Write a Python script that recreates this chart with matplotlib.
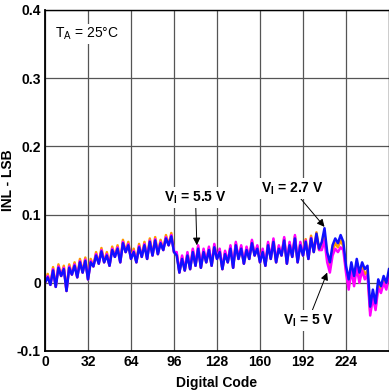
import matplotlib
matplotlib.use("Agg")
import matplotlib.pyplot as plt

plt.rcParams['font.family'] = ['Liberation Sans', 'DejaVu Sans']
plt.rcParams['mathtext.fontset'] = 'custom'
plt.rcParams['mathtext.rm'] = 'Liberation Sans'
plt.rcParams['mathtext.bf'] = 'Liberation Sans:bold'

# Digital code (every 2nd code)
codes = list(range(0, 257, 2))

# INL (LSB)
inl_blue = [
    0.000, 0.008, -0.003, 0.018, -0.006, 0.022, 0.010, 0.020, -0.012, 0.022, 0.012, 0.025, 0.008, 0.030, 0.015, 0.032, 0.005,
    0.030, 0.024, 0.040, 0.028, 0.046, 0.030, 0.040, 0.025, 0.048, 0.038, 0.050, 0.030, 0.058, 0.045, 0.055, 0.035,
    0.045, 0.030, 0.052, 0.038, 0.055, 0.035, 0.060, 0.040, 0.062, 0.042, 0.058, 0.048, 0.065, 0.055, 0.068, 0.045,
    0.040, 0.015, 0.035, 0.018, 0.040, 0.020, 0.045, 0.025, 0.050, 0.022, 0.045, 0.030, 0.048, 0.025, 0.052, 0.035,
    0.045, 0.020, 0.042, 0.030, 0.050, 0.022, 0.055, 0.035, 0.050, 0.028, 0.048, 0.035, 0.058, 0.040, 0.050, 0.030,
    0.045, 0.025, 0.055, 0.035, 0.060, 0.030, 0.050, 0.040, 0.062, 0.028, 0.055, 0.038, 0.065, 0.030, 0.055, 0.040,
    0.060, 0.035, 0.065, 0.045, 0.072, 0.050, 0.060, 0.080, 0.045, 0.030, 0.055, 0.065, 0.058, 0.070, 0.060, 0.025,
    0.005, 0.030, 0.010, 0.035, 0.015, 0.030, 0.020, 0.025, -0.035, -0.010, -0.030, 0.005, -0.005, 0.010, 0.000, 0.020,
]

inl_orange = [
    0.000, 0.013, -0.003, 0.023, -0.006, 0.027, 0.010, 0.025, -0.012, 0.027, 0.012, 0.030, 0.008, 0.035, 0.015, 0.037, 0.005,
    0.035, 0.024, 0.045, 0.028, 0.051, 0.030, 0.045, 0.025, 0.053, 0.038, 0.055, 0.030, 0.063, 0.045, 0.060, 0.035,
    0.050, 0.030, 0.057, 0.038, 0.060, 0.035, 0.065, 0.040, 0.067, 0.042, 0.063, 0.048, 0.070, 0.055, 0.073, 0.045,
    0.043, 0.015, 0.038, 0.018, 0.043, 0.020, 0.048, 0.025, 0.053, 0.022, 0.048, 0.030, 0.051, 0.025, 0.055, 0.035,
    0.048, 0.020, 0.045, 0.030, 0.053, 0.022, 0.058, 0.035, 0.053, 0.028, 0.051, 0.035, 0.061, 0.040, 0.053, 0.030,
    0.048, 0.025, 0.058, 0.035, 0.063, 0.030, 0.053, 0.040, 0.065, 0.028, 0.058, 0.038, 0.068, 0.030, 0.058, 0.040,
    0.064, 0.035, 0.069, 0.045, 0.074, 0.048, 0.056, 0.072, 0.038, 0.022, 0.048, 0.058, 0.052, 0.062, 0.054, 0.020,
    -0.004, 0.024, 0.002, 0.030, 0.008, 0.024, 0.012, 0.018, -0.042, -0.016, -0.036, -0.002, -0.010, 0.004, -0.006, 0.014,
]

inl_magenta = [
    0.000, 0.010, -0.003, 0.020, -0.006, 0.024, 0.010, 0.022, -0.012, 0.024, 0.012, 0.027, 0.008, 0.032, 0.015, 0.034, 0.005,
    0.032, 0.024, 0.042, 0.028, 0.048, 0.030, 0.042, 0.025, 0.050, 0.038, 0.052, 0.030, 0.060, 0.045, 0.057, 0.035,
    0.047, 0.030, 0.054, 0.038, 0.057, 0.035, 0.062, 0.040, 0.064, 0.042, 0.060, 0.048, 0.067, 0.055, 0.070, 0.045,
    0.045, 0.015, 0.040, 0.018, 0.045, 0.020, 0.050, 0.025, 0.055, 0.022, 0.050, 0.030, 0.053, 0.025, 0.057, 0.035,
    0.050, 0.020, 0.047, 0.030, 0.055, 0.022, 0.060, 0.035, 0.055, 0.028, 0.053, 0.035, 0.063, 0.040, 0.055, 0.030,
    0.050, 0.025, 0.060, 0.035, 0.065, 0.030, 0.055, 0.040, 0.067, 0.028, 0.060, 0.038, 0.070, 0.030, 0.060, 0.040,
    0.062, 0.035, 0.066, 0.046, 0.068, 0.048, 0.048, 0.062, 0.030, 0.015, 0.040, 0.050, 0.045, 0.052, 0.048, 0.015,
    -0.010, 0.018, -0.005, 0.022, 0.000, 0.018, 0.005, 0.012, -0.048, -0.022, -0.040, -0.008, -0.015, 0.000, -0.010, 0.010,
]

fig = plt.figure(figsize=(3.89, 3.92), dpi=100)
ax = fig.add_axes([0.1157, 0.1046, 0.8843, 0.87])

ax.plot(codes, inl_orange, color='#ff9a00', lw=1.8)
ax.plot(codes, inl_magenta, color='#ff00ff', lw=1.8)
ax.plot(codes, inl_blue, color='#1010ff', lw=1.8)

ax.set_xlim(0, 256)
ax.set_ylim(-0.1, 0.4)
ax.set_xticks([0, 32, 64, 96, 128, 160, 192, 224])
ax.set_yticks([-0.1, 0, 0.1, 0.2, 0.3, 0.4])
ax.set_yticklabels(['-0.1', '0', '0.1', '0.2', '0.3', '0.4'])
ax.tick_params(length=0, labelsize=10, pad=3)
for lab in ax.get_xticklabels() + ax.get_yticklabels():
    lab.set_fontweight('bold')
ax.grid(True, color='#555555', lw=0.9)
ax.set_axisbelow(True)
for s in ['left', 'bottom']:
    ax.spines[s].set_linewidth(1.3)
for s in ['top', 'right']:
    ax.spines[s].set_linewidth(1.0)

ax.set_xlabel('Digital Code', fontsize=10, fontweight='bold', labelpad=5)
ax.set_ylabel('INL - LSB', fontsize=10, fontweight='bold', labelpad=1)

box = dict(facecolor='white', edgecolor='none', pad=1.5)
ax.text(31, 0.365, r'T$_\mathrm{A}$ = 25°C', fontsize=10, ha='center', va='center', bbox=box)

arrow = dict(arrowstyle='-|>', color='black', lw=0.7, mutation_scale=11, shrinkA=0, shrinkB=0)
ax.annotate(r'V$_\mathbf{I}$ = 5.5 V', xy=(113, 0.055), xytext=(112, 0.125),
            fontsize=10, fontweight='bold', ha='center', va='center', bbox=box, arrowprops=arrow)
ax.annotate(r'V$_\mathbf{I}$ = 2.7 V', xy=(208, 0.082), xytext=(184, 0.138),
            fontsize=10, fontweight='bold', ha='center', va='center', bbox=box, arrowprops=arrow)
ax.annotate(r'V$_\mathbf{I}$ = 5 V', xy=(210, 0.015), xytext=(196, -0.055),
            fontsize=10, fontweight='bold', ha='center', va='center', bbox=box, arrowprops=arrow)

fig.savefig('out.png', dpi=100)
